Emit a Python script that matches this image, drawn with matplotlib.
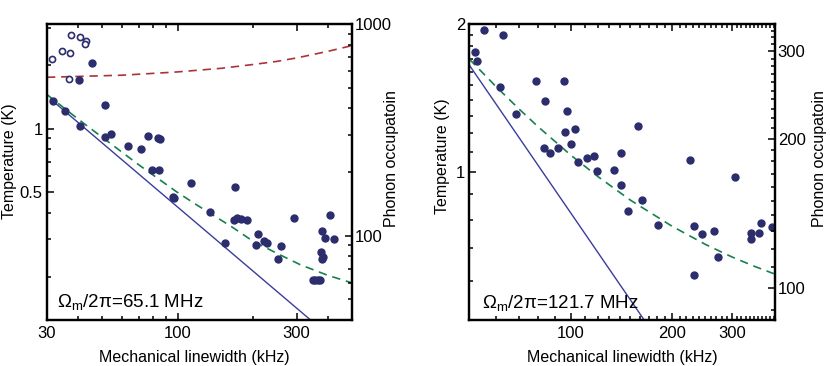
import numpy as np
import matplotlib
matplotlib.use("Agg")
import matplotlib.pyplot as plt

plt.rcParams['font.family'] = ['Liberation Sans', 'DejaVu Sans']
plt.rcParams['mathtext.fontset'] = 'custom'
plt.rcParams['mathtext.rm'] = 'Liberation Sans'
plt.rcParams['mathtext.it'] = 'Liberation Sans:italic'

# ---------------- data ----------------
# left panel, 65.1 MHz mode (linewidth in kHz, temperature in K)
open_gamma = [31.4, 34.3, 37.2, 37.6, 40.8, 42.9, 42.4, 36.9]
open_temp = [2.13, 2.33, 2.27, 2.77, 2.72, 2.59, 2.52, 1.71]

fill_gamma_a = [40.4, 45.6, 31.6, 35.5, 40.8, 51.4, 51.2, 54.1, 63.4, 71.1,
                76.5, 83.3, 84.8, 79.2, 84.0, 95.8, 96.7, 113.5, 170.1, 134.9,
                169.1, 173.3, 180.4, 189.8, 155.6, 209.7, 205.7, 222.7, 227.8,
                259.9, 252.6, 293.0, 348.3, 355.8, 365.0, 373.0, 380.4, 391.3,
                408.8, 424.6, 374.0, 381.0, 379.0]
fill_temp_a = [1.69, 2.04, 1.35, 1.21, 1.03, 1.29, 0.917, 0.940, 0.828, 0.805,
               0.920, 0.900, 0.895, 0.639, 0.639, 0.474, 0.470, 0.557, 0.530, 0.403,
               0.369, 0.377, 0.376, 0.370, 0.289, 0.318, 0.281, 0.295, 0.290,
               0.280, 0.243, 0.380, 0.194, 0.194, 0.194, 0.194, 0.330, 0.305,
               0.390, 0.301, 0.263, 0.249, 0.242]

blue_gamma_a = [31, 341]
blue_temp_a = [1.38, 0.125]
green_gamma_a = [30, 40, 50, 70, 100, 120, 165, 200, 250, 310, 400, 500]
green_temp_a = [1.45, 1.11, 0.91, 0.675, 0.50, 0.435, 0.344, 0.295, 0.258, 0.228, 0.203, 0.187]
red_gamma_a = [30, 60, 100, 150, 200, 250, 300, 400, 500]
red_temp_a = [1.75, 1.79, 1.855, 1.93, 2.01, 2.08, 2.16, 2.32, 2.47]

# right panel, 121.7 MHz mode
fill_gamma_b = [55.1, 63.0, 52.1, 52.8, 61.7, 78.6, 95.3, 83.8, 68.9, 97.1,
                96.2, 102.8, 99.8, 83.4, 86.8, 91.3, 105.1, 111.8, 117.5, 140.6,
                119.4, 134.0, 140.6, 147.9, 158.2, 162.4, 181.5, 225.2, 231.6,
                231.6, 244.4, 266.6, 272.9, 306.3, 341.0, 342.4, 362.4, 365.3, 395.0]
fill_temp_b = [1.947, 1.899, 1.753, 1.684, 1.486, 1.530, 1.530, 1.393, 1.311, 1.328,
               1.206, 1.225, 1.141, 1.117, 1.093, 1.120, 1.048, 1.068, 1.076, 1.091,
               1.006, 1.010, 0.942, 0.833, 1.239, 0.879, 0.781, 1.058, 0.777,
               0.616, 0.749, 0.757, 0.671, 0.976, 0.732, 0.751, 0.751, 0.787, 0.772]

blue_gamma_b = [50, 165]
blue_temp_b = [1.65, 0.5]
green_gamma_b = [50, 60, 70, 80, 100, 120, 150, 200, 250, 300, 350, 400]
green_temp_b = [1.697, 1.492, 1.346, 1.236, 1.082, 0.980, 0.877, 0.775, 0.713, 0.672, 0.643, 0.621]

# K -> phonon number factor (k_B / hbar Omega)
n_per_K_a = 320.1
n_per_K_b = 171.2

navy = '#2b2d6c'
c_blue = '#3a3d9c'
c_green = '#17804e'
c_red = '#aa3338'

fig = plt.figure(figsize=(8.3, 3.66), dpi=100)
ax_a = fig.add_axes([47 / 830, 46 / 366, 305 / 830, 296 / 366])
ax_b = fig.add_axes([469.3 / 830, 46 / 366, 305.7 / 830, 296 / 366])

fs_tick = 12
fs_lab = 11.5


def style(ax, xmaj, xmin, ymaj, ymin, ylab, xlim, ylim):
    ax.set_xscale('log')
    ax.set_yscale('log')
    ax.set_xlim(*xlim)
    ax.set_ylim(*ylim)
    ax.set_xticks(xmaj)
    ax.set_xticklabels([str(v) for v in xmaj])
    ax.set_xticks(xmin, minor=True)
    ax.set_xticklabels([], minor=True)
    ax.set_yticks(ymaj)
    ax.set_yticklabels(ylab)
    ax.set_yticks(ymin, minor=True)
    ax.set_yticklabels([], minor=True)
    ax.tick_params(which='both', direction='in', top=True, right=False,
                   labelsize=fs_tick, width=1.1)
    ax.tick_params(which='major', length=5)
    ax.tick_params(which='minor', length=3)
    ax.tick_params(axis='x', pad=4)
    ax.tick_params(axis='y', pad=3)
    for s in ax.spines.values():
        s.set_linewidth(1.6)
    ax.set_xlabel('Mechanical linewidth (kHz)', fontsize=fs_lab)
    ax.set_ylabel('Temperature (K)', fontsize=fs_lab)


def twin(ax, k, nmaj, nmin, ylim):
    t = ax.twinx()
    t.set_yscale('log')
    t.set_ylim(ylim[0] * k, ylim[1] * k)
    t.set_yticks(nmaj)
    t.set_yticklabels([str(v) for v in nmaj])
    t.set_yticks(nmin, minor=True)
    t.set_yticklabels([], minor=True)
    t.tick_params(which='both', direction='in', labelsize=fs_tick, width=1.1, pad=2)
    t.tick_params(which='major', length=5)
    t.tick_params(which='minor', length=3)
    for s in t.spines.values():
        s.set_linewidth(1.6)
    t.set_ylabel('Phonon occupatoin', fontsize=fs_lab)
    return t


# ---- left panel ----
ylim_a = (0.1249, 3.124)
style(ax_a, [30, 100, 300], [40, 50, 60, 70, 80, 90, 200, 400],
      [0.5, 1], [0.2, 0.3, 0.4, 0.6, 0.7, 0.8, 0.9, 2, 3], ['0.5', '1'],
      (30, 500), ylim_a)
ax_a.plot(blue_gamma_a, blue_temp_a, '-', color=c_blue, lw=1.0)
ax_a.plot(green_gamma_a, green_temp_a, color=c_green, lw=1.2, dashes=(5, 3.5))
ax_a.plot(red_gamma_a, red_temp_a, color=c_red, lw=1.2, dashes=(5, 3.5))
ax_a.plot(fill_gamma_a, fill_temp_a, 'o', color=navy, ms=5, mec=navy)
ax_a.plot(open_gamma, open_temp, 'o', mfc='white', mec=navy, ms=4.4, mew=1.2)
ax_a.text(0.034, 0.062, r'$\Omega_{\rm m}$/2π=65.1 MHz', transform=ax_a.transAxes,
          fontsize=13.5, va='center', ha='left')
ax_a.xaxis.set_label_coords(0.484, -0.1)
ax_a.yaxis.set_label_coords(-0.098, 0.535)
tw_a = twin(ax_a, n_per_K_a, [100, 1000],
            [50, 60, 70, 80, 90, 200, 300, 400, 500, 600, 700, 800, 900], ylim_a)
tw_a.yaxis.set_label_coords(1.106, 0.546)

# ---- right panel ----
ylim_b = (0.503, 1.99)
xmin_b = [v for v in range(60, 410, 10) if v not in (100, 200, 300)]
ymin_b = [0.5, 0.6, 0.7, 0.8, 0.9, 1.1, 1.2, 1.3, 1.4, 1.5, 1.6, 1.7, 1.8, 1.9]
style(ax_b, [100, 200, 300], xmin_b, [1, 2], ymin_b, ['1', '2'],
      (50, 403), ylim_b)
ax_b.plot(blue_gamma_b, blue_temp_b, '-', color=c_blue, lw=1.0)
ax_b.plot(green_gamma_b, green_temp_b, color=c_green, lw=1.2, dashes=(5, 3.5))
ax_b.plot(fill_gamma_b, fill_temp_b, 'o', color=navy, ms=5, mec=navy)
ax_b.text(0.041, 0.058, r'$\Omega_{\rm m}$/2π=121.7 MHz', transform=ax_b.transAxes,
          fontsize=13.5, va='center', ha='left')
ax_b.xaxis.set_label_coords(0.502, -0.1)
ax_b.yaxis.set_label_coords(-0.062, 0.553)
nmin_b = [v for v in range(90, 350, 10) if v not in (100, 200, 300)]
tw_b = twin(ax_b, n_per_K_b, [100, 200, 300], nmin_b, ylim_b)
tw_b.yaxis.set_label_coords(1.12, 0.545)

fig.savefig('out.png', dpi=100)
